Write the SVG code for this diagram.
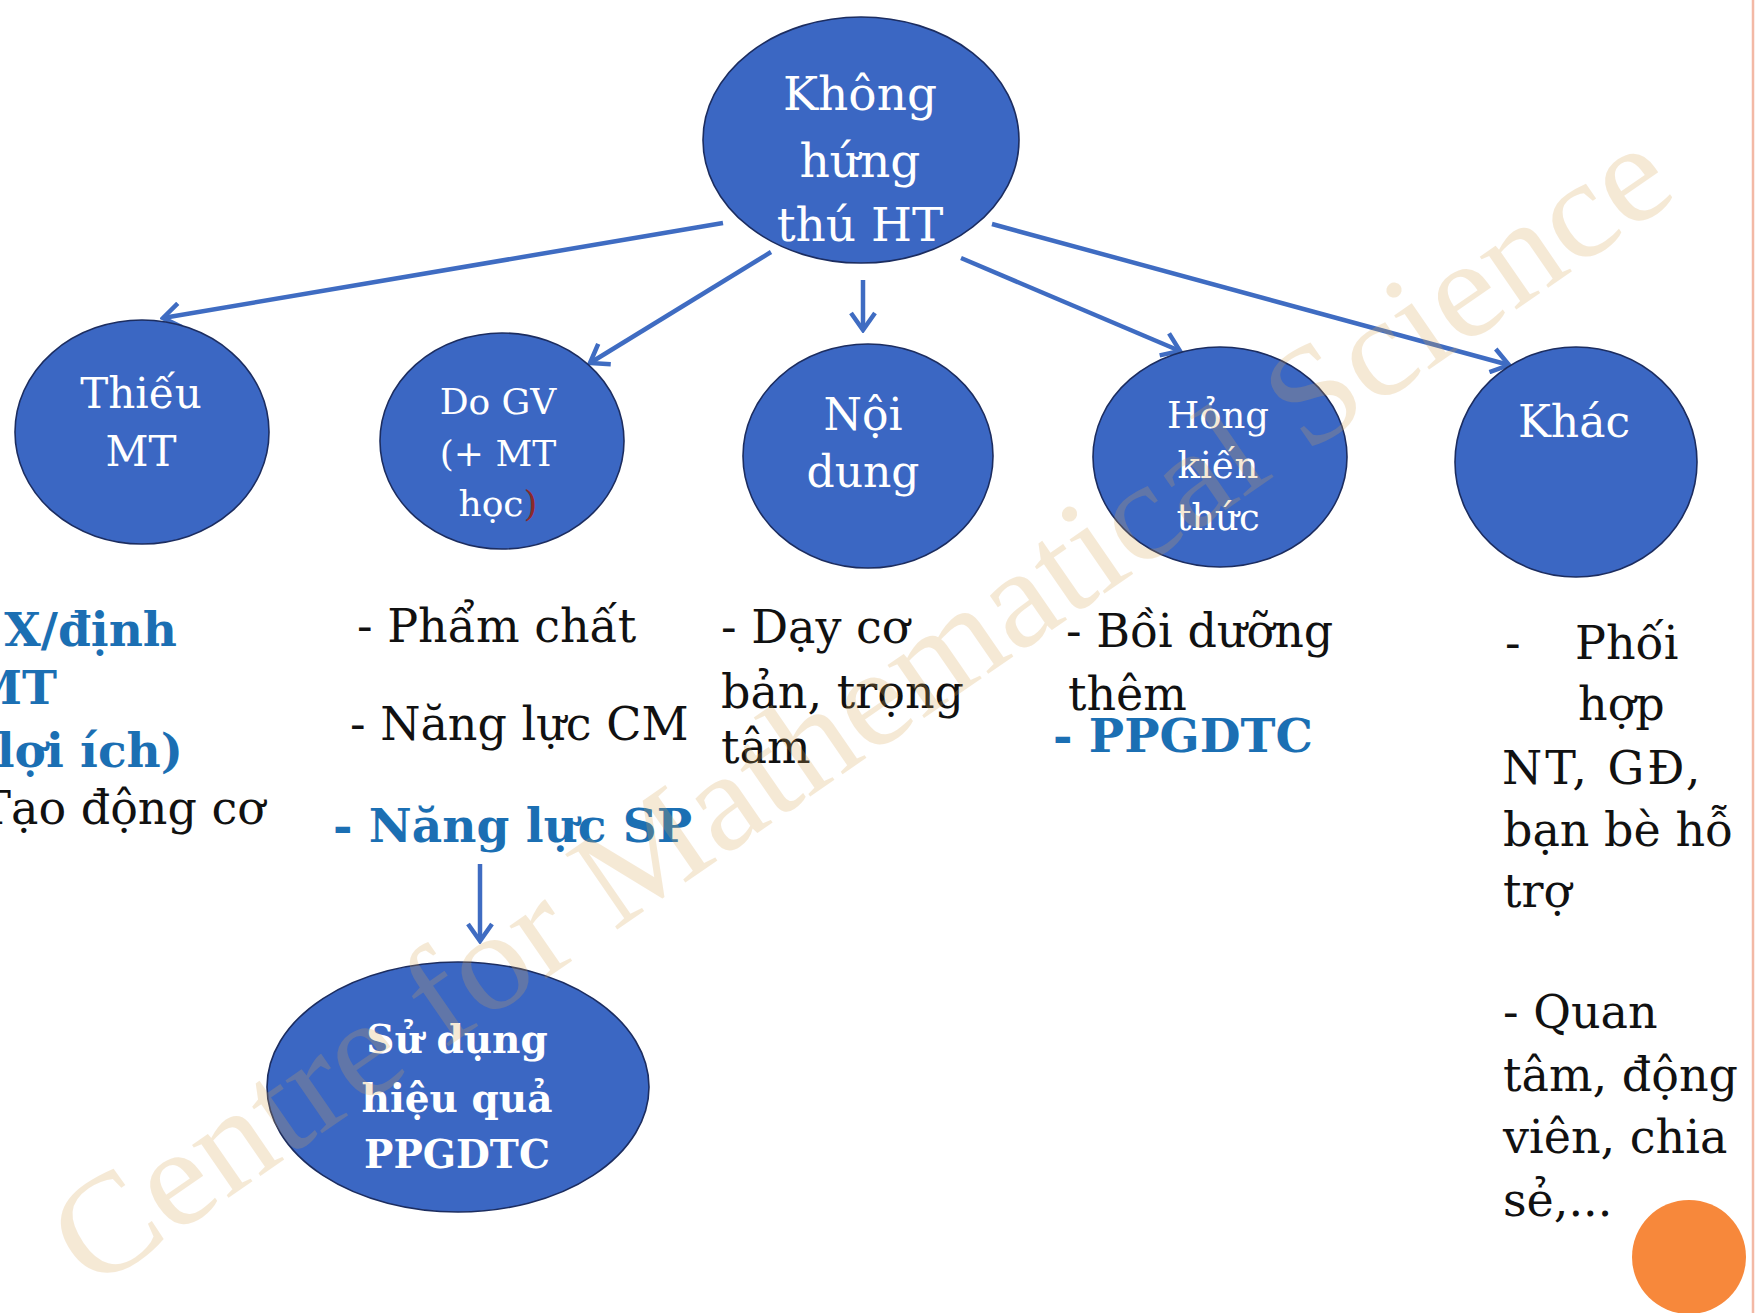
<svg xmlns="http://www.w3.org/2000/svg" width="1757" height="1313" viewBox="0 0 1757 1313">
  <style>
    .node { fill: #3b67c3; stroke: #1c2d60; stroke-width: 1.6; }
    .nt { font-family: "DejaVu Serif", "Liberation Serif", serif; fill: #ffffff; text-anchor: middle; }
    .nb { font-family: "DejaVu Serif", "Liberation Serif", serif; fill: #ffffff; text-anchor: middle; font-weight: bold; }
    .body { font-family: "DejaVu Serif", "Liberation Serif", serif; fill: #111111; font-size: 46px; }
    .blue { font-family: "DejaVu Serif", "Liberation Serif", serif; fill: #1b6fb3; font-weight: bold; font-size: 47px; }
    .conn { stroke: #3f6cc2; stroke-width: 4.5; fill: none; marker-end: url(#arr); }
    .wm { font-family: "Liberation Serif", "DejaVu Serif", serif; fill: #d8a655; opacity: 0.24; font-size: 140px; }
  </style>
  <defs>
    <marker id="arr" markerUnits="userSpaceOnUse" viewBox="0 0 22 28" refX="19" refY="14" markerWidth="22" markerHeight="28" orient="auto">
      <path d="M2,2 L19,14 L2,26" fill="none" stroke="#3f6cc2" stroke-width="4.5" stroke-linejoin="miter"/>
    </marker>
  </defs>
  <rect width="1757" height="1313" fill="#ffffff"/>
  <line x1="1753" y1="0" x2="1753" y2="1313" stroke="#f3b9a6" stroke-width="2.5"/>

  <g id="connectors">
    <line class="conn" x1="723" y1="223" x2="163" y2="318"/>
    <line class="conn" x1="771" y1="252" x2="590" y2="363"/>
    <line class="conn" x1="863" y1="280" x2="863" y2="330"/>
    <line class="conn" x1="961" y1="258" x2="1180" y2="351"/>
    <line class="conn" x1="992" y1="224" x2="1509" y2="365"/>
    <line class="conn" x1="480" y1="864" x2="480" y2="941"/>
  </g>

  <g id="n-root">
    <ellipse class="node" cx="861" cy="140" rx="158" ry="123"/>
    <text class="nt" font-size="47" x="860" y="110">Không</text>
    <text class="nt" font-size="47" x="860" y="177">hứng</text>
    <text class="nt" font-size="47" x="860" y="241">thú HT</text>
  </g>

  <g id="n-thieu">
    <ellipse class="node" cx="142" cy="432" rx="127" ry="112"/>
    <text class="nt" font-size="42" x="141" y="408">Thiếu</text>
    <text class="nt" font-size="42" x="141" y="466">MT</text>
  </g>

  <g id="n-dogv">
    <ellipse class="node" cx="502" cy="441" rx="122" ry="108"/>
    <text class="nt" font-size="36" x="498" y="414">Do GV</text>
    <text class="nt" font-size="36" x="498" y="466">(+ MT</text>
    <text class="nt" font-size="36" x="498" y="516">học<tspan fill="#8b2a2a">)</tspan></text>
  </g>

  <g id="n-noidung">
    <ellipse class="node" cx="868" cy="456" rx="125" ry="112"/>
    <text class="nt" font-size="44" x="863" y="430">Nội</text>
    <text class="nt" font-size="44" x="863" y="487">dung</text>
  </g>

  <g id="n-hong">
    <ellipse class="node" cx="1220" cy="457" rx="127" ry="110"/>
    <text class="nt" font-size="37" x="1218" y="428">Hỏng</text>
    <text class="nt" font-size="37" x="1218" y="478">kiến</text>
    <text class="nt" font-size="37" x="1218" y="530">thức</text>
  </g>

  <g id="n-khac">
    <ellipse class="node" cx="1576" cy="462" rx="121" ry="115"/>
    <text class="nt" font-size="44" x="1574" y="437">Khác</text>
  </g>

  <g id="n-sudung">
    <ellipse class="node" cx="458" cy="1087" rx="191" ry="125"/>
    <text class="nb" font-size="39" x="457" y="1053">Sử dụng</text>
    <text class="nb" font-size="39" x="457" y="1112">hiệu quả</text>
    <text class="nb" font-size="39" x="457" y="1168">PPGDTC</text>
  </g>

  <g id="t-col1">
    <text class="blue" x="177" y="646" text-anchor="end" font-size="49">X/định</text>
    <text class="blue" x="57" y="704" text-anchor="end" font-size="49">MT</text>
    <text class="blue" x="183" y="767" text-anchor="end" font-size="49">(lợi ích)</text>
    <text class="body" x="265" y="824" text-anchor="end">Tạo động cơ</text>
  </g>

  <g id="t-col2">
    <text class="body" x="357" y="642">- Phẩm chất</text>
    <text class="body" x="350" y="740" font-size="47">- Năng lực CM</text>
    <text class="blue" x="333" y="842" font-size="50">- Năng lực SP</text>
  </g>

  <g id="t-col3">
    <text class="body" x="721" y="643">- Dạy cơ</text>
    <text class="body" x="721" y="708">bản, trọng</text>
    <text class="body" x="721" y="763">tâm</text>
  </g>

  <g id="t-col4">
    <text class="body" x="1066" y="647" font-size="47">- Bồi dưỡng</text>
    <text class="body" x="1068" y="710">thêm</text>
    <text class="blue" x="1053" y="752" font-size="51">- PPGDTC</text>
  </g>

  <g id="t-col5">
    <text class="body" font-size="47" x="1505" y="659">-</text>
    <text class="body" font-size="47" x="1575" y="659">Phối</text>
    <text class="body" font-size="47" x="1578" y="720">hợp</text>
    <text class="body" font-size="47" x="1502" y="784" letter-spacing="3">NT, GĐ,</text>
    <text class="body" font-size="47" x="1503" y="846">bạn bè hỗ</text>
    <text class="body" font-size="47" x="1503" y="907">trợ</text>
    <text class="body" font-size="47" x="1503" y="1028">- Quan</text>
    <text class="body" font-size="47" x="1503" y="1091">tâm, động</text>
    <text class="body" font-size="47" x="1503" y="1153">viên, chia</text>
    <text class="body" font-size="47" x="1503" y="1216">sẻ,...</text>
  </g>

  <circle cx="1689" cy="1257" r="57" fill="#f7883b"/>

  <text class="wm" transform="translate(92,1292) rotate(-34.6)" textLength="1930" lengthAdjust="spacingAndGlyphs">Centre for Mathematical Science</text>
</svg>
